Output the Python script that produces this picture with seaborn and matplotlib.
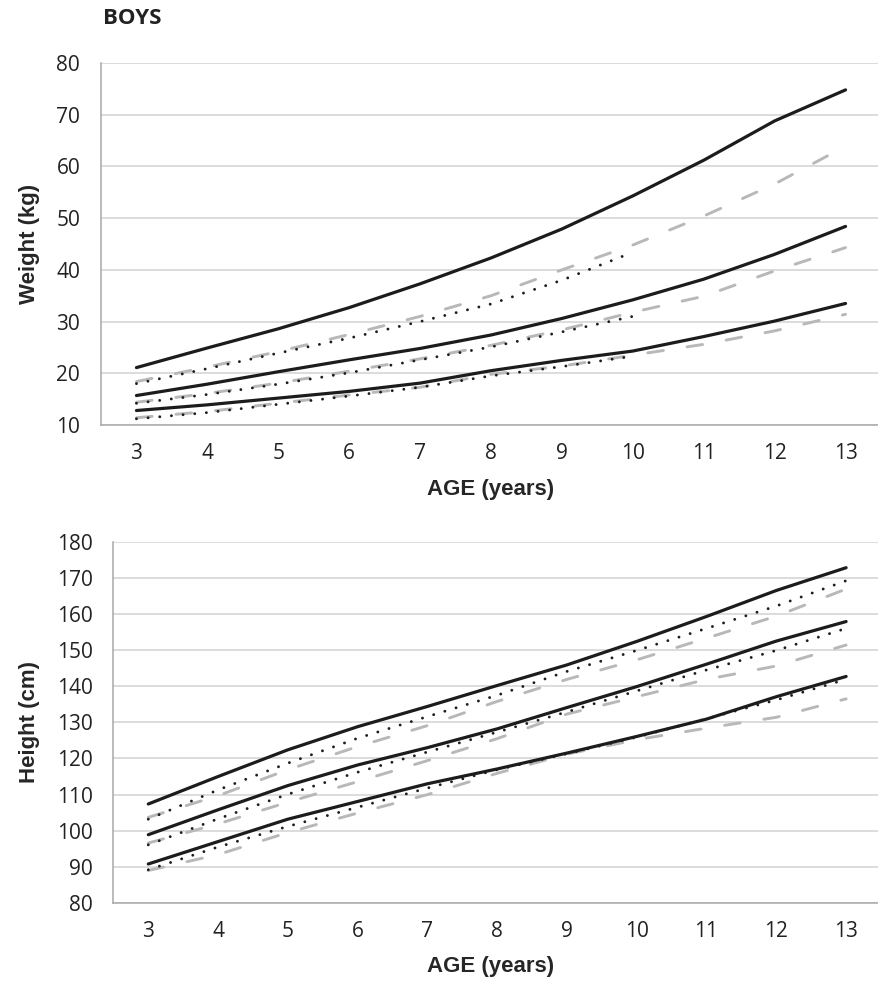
import numpy as np
import pandas as pd
import matplotlib
matplotlib.use("Agg")
import matplotlib.pyplot as plt
import seaborn as sns

# ages on the category axis
ages = list(range(3, 14))

# Weight (kg) - three curves per reference
w_solid_hi = [21.1, 24.9, 28.6, 32.7, 37.3, 42.3, 47.9, 54.3, 61.2, 68.8, 74.8]
w_solid_mid = [15.7, 17.9, 20.3, 22.6, 24.8, 27.4, 30.6, 34.2, 38.2, 43.0, 48.4]
w_solid_lo = [12.8, 13.9, 15.2, 16.5, 18.1, 20.5, 22.5, 24.3, 27.1, 30.1, 33.5]

w_dot_hi = [18.0, 20.9, 23.9, 26.8, 30.0, 33.4, 38.0, 43.4]
w_dot_mid = [14.2, 15.9, 17.9, 20.1, 22.6, 25.1, 28.0, 31.0]
w_dot_lo = [11.2, 12.4, 14.0, 15.6, 17.3, 19.5, 21.3, 23.3]

w_dash_hi = [18.4, 21.2, 24.2, 27.5, 31.0, 35.0, 40.0, 44.8, 50.4, 56.6, 63.9]
w_dash_mid = [14.4, 16.1, 18.1, 20.4, 22.8, 25.4, 28.4, 31.8, 34.9, 39.8, 44.3]
w_dash_lo = [11.4, 12.6, 14.2, 15.8, 17.3, 19.8, 21.4, 23.5, 25.6, 28.2, 31.4]

# Height (cm)
h_solid_hi = [107.4, 115.0, 122.4, 128.8, 134.4, 140.2, 145.9, 152.4, 159.3, 166.5, 172.8]
h_solid_mid = [98.9, 105.8, 112.5, 118.2, 123.0, 128.2, 134.1, 139.9, 146.1, 152.5, 157.9]
h_solid_lo = [90.8, 97.0, 103.2, 108.1, 113.0, 117.1, 121.5, 126.1, 130.9, 137.1, 142.7]

h_dot_hi = [103.2, 111.3, 118.7, 125.6, 131.6, 137.5, 144.1, 149.9, 156.0, 162.2, 169.2]
h_dot_mid = [96.1, 103.3, 110.1, 116.2, 121.8, 127.3, 132.9, 138.7, 144.5, 149.9, 156.0]
h_dot_lo = [89.2, 95.5, 101.2, 106.5, 111.8, 116.9, 121.3, 125.9, 131.0, 136.2, 141.9]

h_dash_hi = [103.7, 109.7, 116.9, 123.3, 129.1, 135.8, 141.9, 147.3, 153.3, 159.4, 166.9]
h_dash_mid = [96.6, 101.9, 107.9, 113.6, 119.4, 125.5, 132.3, 137.1, 141.9, 145.6, 151.4]
h_dash_lo = [89.0, 93.4, 99.5, 104.9, 110.0, 115.9, 121.2, 125.2, 128.4, 131.4, 136.5]

y_weight = list(range(10, 81, 10))
y_height = list(range(80, 181, 10))


def long_df(series):
    rows = []
    for (src, pct), vals in series.items():
        for a, v in zip(ages, vals):
            rows.append({"age": a, "value": v, "source": src, "pct": pct})
    return pd.DataFrame(rows)


weight = long_df({
    ("solid", "hi"): w_solid_hi, ("solid", "mid"): w_solid_mid, ("solid", "lo"): w_solid_lo,
    ("dotted", "hi"): w_dot_hi, ("dotted", "mid"): w_dot_mid, ("dotted", "lo"): w_dot_lo,
    ("dashed", "hi"): w_dash_hi, ("dashed", "mid"): w_dash_mid, ("dashed", "lo"): w_dash_lo,
})
height = long_df({
    ("solid", "hi"): h_solid_hi, ("solid", "mid"): h_solid_mid, ("solid", "lo"): h_solid_lo,
    ("dotted", "hi"): h_dot_hi, ("dotted", "mid"): h_dot_mid, ("dotted", "lo"): h_dot_lo,
    ("dashed", "hi"): h_dash_hi, ("dashed", "mid"): h_dash_mid, ("dashed", "lo"): h_dash_lo,
})

sns.set_style("white")
plt.rcParams["font.family"] = ["Open Sans", "DejaVu Sans"]

order = ["dashed", "dotted", "solid"]
palette = {"solid": "#1c1c1c", "dotted": "#1c1c1c", "dashed": "#b8b8b8"}
dashes = {"solid": "", "dotted": (0.01, 4.0), "dashed": (5.4, 8.2)}
sizes = {"solid": 2.3, "dotted": 2.1, "dashed": 2.1}
axis_grey = "#a8a8a8"
label_font = dict(family="Liberation Sans", fontweight="bold", fontsize=16)

fig = plt.figure(figsize=(8.79, 9.83), dpi=100)
ax1 = fig.add_axes([101 / 879, 1 - 425 / 983, 780 / 879, 362 / 983])
ax2 = fig.add_axes([113.4 / 879, 1 - 903 / 983, 767.6 / 879, 361.3 / 983])

for ax, df, yt, ylab in [(ax1, weight, y_weight, "Weight (kg)"),
                         (ax2, height, y_height, "Height (cm)")]:
    sns.lineplot(data=df, x="age", y="value", hue="source", style="source",
                 size="source", units="pct", estimator=None, hue_order=order,
                 style_order=order, size_order=order, palette=palette,
                 dashes=dashes, sizes=sizes, legend=False, ax=ax)
    for line in ax.lines:
        line.set_dash_capstyle("round")

    ax.set_xlim(2.5, 13.5)
    ax.set_ylim(yt[0], yt[-1])
    ax.set_xticks(ages)
    ax.set_xticklabels([str(a) for a in ages])
    ax.set_xticks(np.arange(2.5, 14, 1), minor=True)
    ax.set_yticks(yt)
    ax.tick_params(axis="x", which="major", length=0, pad=13, labelsize=15, labelcolor="#222222")
    ax.tick_params(axis="x", which="minor", length=5, width=1.1, color=axis_grey, direction="out")
    ax.tick_params(axis="y", length=5, width=1.1, color=axis_grey, pad=10, labelsize=15,
                   labelcolor="#222222", direction="out")
    ax.grid(axis="y", color="#d2d2d2", lw=1.1)
    ax.set_axisbelow(True)
    sns.despine(ax=ax)
    for s in ["left", "bottom"]:
        ax.spines[s].set_color(axis_grey)
        ax.spines[s].set_linewidth(1.1)

    ax.set_xlabel("AGE (years)", **label_font)
    ax.set_ylabel(ylab, **label_font)

ax1.xaxis.set_label_coords((491 - 101) / 780, -0.148)
ax1.yaxis.set_label_coords((40 - 101) / 780, 0.5)
ax2.xaxis.set_label_coords((491 - 113.4) / 767.6, -0.148)
ax2.yaxis.set_label_coords((40 - 113.4) / 767.6, 0.5)

fig.text(103 / 879, 1 - 18.5 / 983, "BOYS", ha="left", va="center",
         fontweight="bold", fontsize=16, color="#222222")

fig.savefig("out.png", dpi=100)
